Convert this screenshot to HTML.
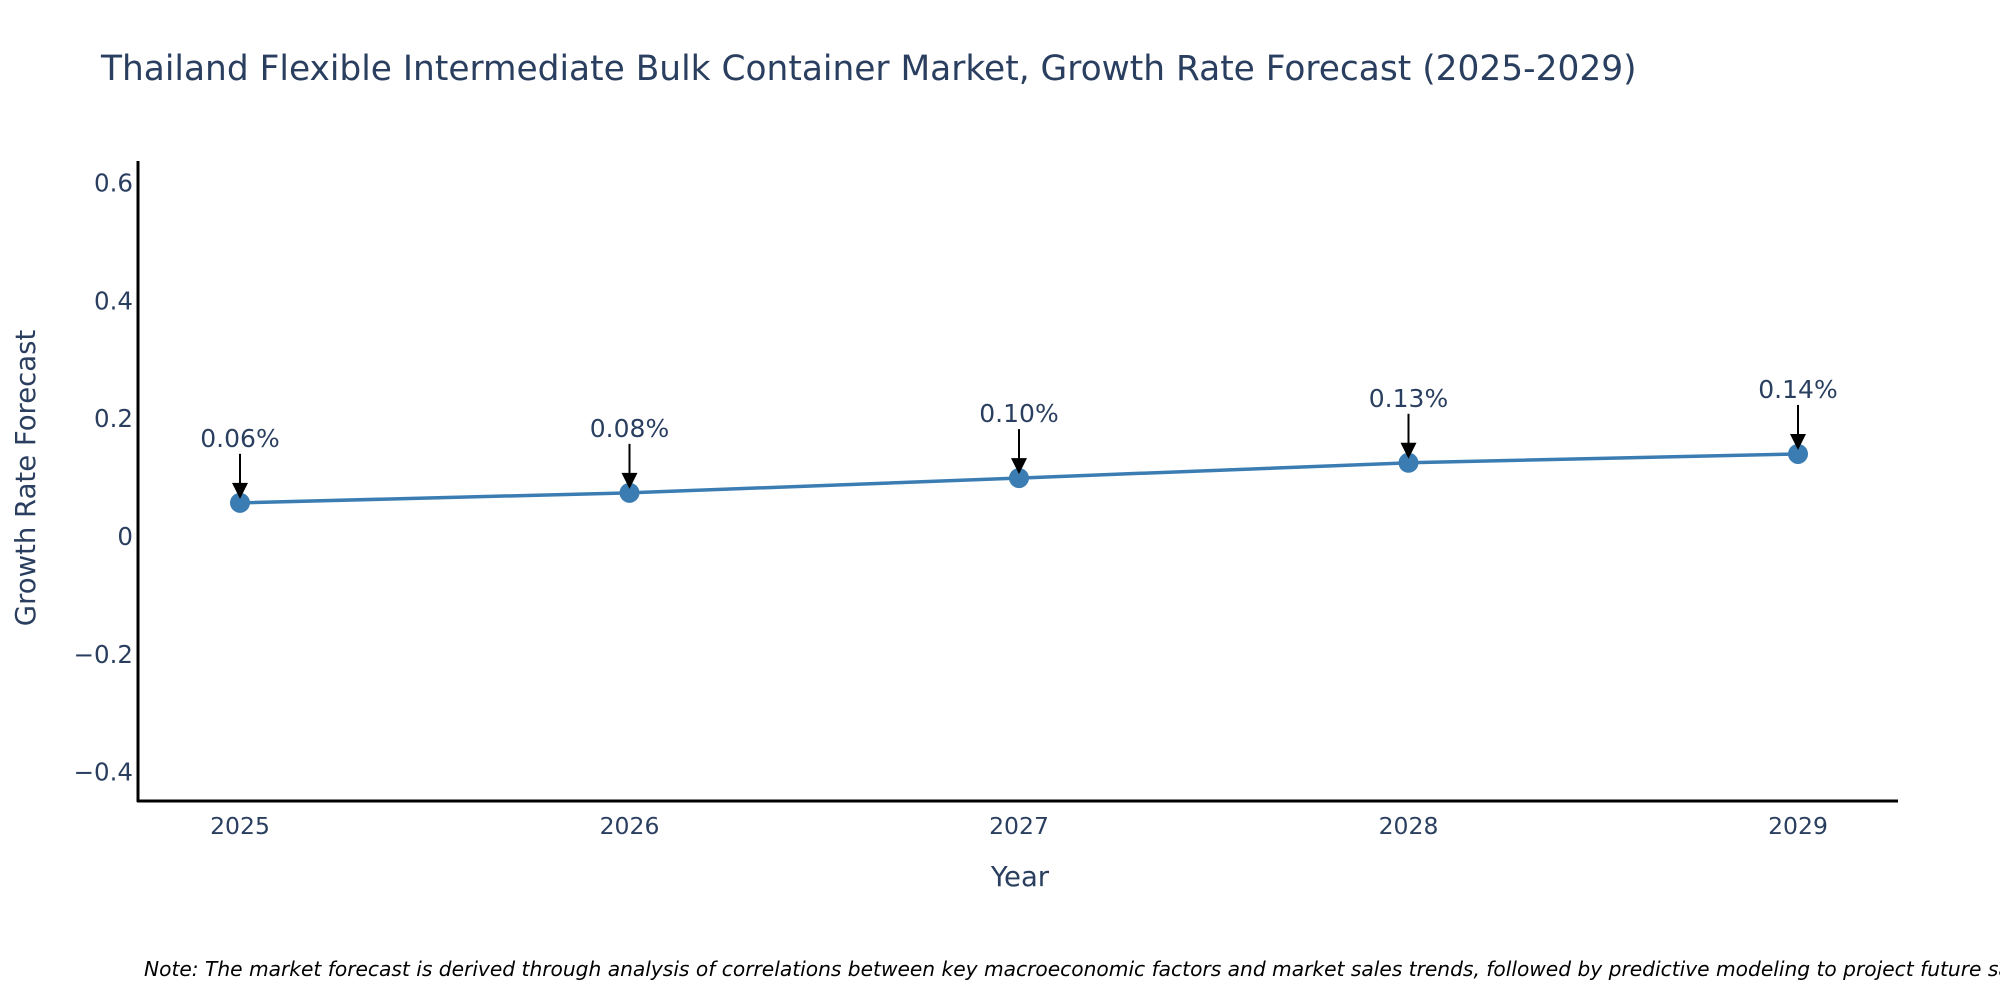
<!DOCTYPE html>
<html><head><meta charset="utf-8"><style>
html,body{margin:0;padding:0;background:#fff;}
svg{display:block;font-family:"DejaVu Sans","Liberation Sans",sans-serif;}
</style></head><body>
<svg id="chart" width="2000" height="1000">
<text x="101" y="80" font-size="34.4" fill="#2a3f5f">Thailand Flexible Intermediate Bulk Container Market, Growth Rate Forecast (2025-2029)</text>
<g id="yticks"></g><g id="xticks"></g>
<line x1="138" y1="161" x2="138" y2="802" stroke="#000" stroke-width="3"/>
<line x1="137" y1="801" x2="1898" y2="801" stroke="#000" stroke-width="3"/>
<g id="series"></g>
<text x="1020" y="886" font-size="27.5" fill="#2a3f5f" text-anchor="middle">Year</text>
<text transform="translate(35,478) rotate(-90)" font-size="27.5" fill="#2a3f5f" text-anchor="middle">Growth Rate Forecast</text>
<text x="144" y="976" font-size="20.2" font-style="italic" fill="#000">Note: The market forecast is derived through analysis of correlations between key macroeconomic factors and market sales trends, followed by predictive modeling to project future sales.</text>
</svg>
<script>
const years = [2025, 2026, 2027, 2028, 2029];
const values = [0.058, 0.075, 0.1, 0.126, 0.141];
const labels = ["0.06%", "0.08%", "0.10%", "0.13%", "0.14%"];
const yTicks = [0.6, 0.4, 0.2, 0, -0.2, -0.4];
const yTickLabels = ["0.6", "0.4", "0.2", "0", "\u22120.2", "\u22120.4"];

const NS = "http://www.w3.org/2000/svg";
function xs(v){ return 240 + (v - 2025) * 389.5; }
function ys(v){ return 537 - v * 589; }
function mk(tag, attrs, parent){ const e = document.createElementNS(NS, tag); for (const k in attrs) e.setAttribute(k, attrs[k]); parent.appendChild(e); return e; }

const yt = document.getElementById('yticks');
yTicks.forEach((t, i) => {
  const e = mk('text', {x: 133, y: ys(t) + 8, 'font-size': 24.5, fill: '#2a3f5f', 'text-anchor': 'end'}, yt);
  
  
  e.textContent = yTickLabels[i];
});
const xt = document.getElementById('xticks');
years.forEach(y => {
  const e = mk('text', {x: xs(y), y: 834, 'font-size': 23.5, fill: '#2a3f5f', 'text-anchor': 'middle'}, xt);
  
  
  e.textContent = String(y);
});
const s = document.getElementById('series');
const line = mk('polyline', {points: years.map((y, i) => xs(y) + ',' + ys(values[i])).join(' '), fill: 'none', stroke: '#3b7db3', 'stroke-width': 3.5}, s);


years.forEach((y, i) => {
  const cx = xs(y), cy = ys(values[i]);
  const c = mk('circle', {cx: cx, cy: cy, r: 10, fill: '#3b7db3'}, s);
  
  
  const l = mk('line', {x1: cx, y1: cy - 49, x2: cx, y2: cy - 18, stroke: '#000', 'stroke-width': 2}, s);
  
  
  const p = mk('polygon', {points: `${cx-8},${cy-20} ${cx+8},${cy-20} ${cx},${cy-4}`, fill: '#000'}, s);
  
  
  const t = mk('text', {x: cx, y: cy - 56, 'font-size': 25, fill: '#2a3f5f', 'text-anchor': 'middle'}, s);
  
  
  t.textContent = labels[i];
});
</script>
</body></html>
